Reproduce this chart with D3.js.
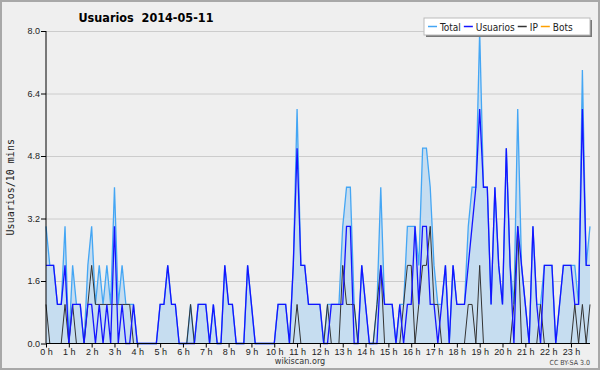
<!DOCTYPE html>
<html>
<head>
<meta charset="utf-8">
<script src="https://cdn.jsdelivr.net/npm/d3@7"></script>
<style>
  body { margin: 0; background: #fff; }
  svg { display: block; font-family: "DejaVu Sans Condensed", "DejaVu Sans", sans-serif; }
</style>
</head>
<body>
<svg id="chart" width="600" height="370"></svg>
<script>
// valores cada 10 minutos (144 puntos, 0 h -> 23:50)
const total = [
  3, 2, 2, 1, 1, 3, 0, 2, 1, 1, 0, 2, 3, 1, 2, 1, 2, 1, 4, 1, 2, 1, 1, 1,
  0, 0, 0, 0, 0, 0, 1, 1, 2, 1, 1, 0, 0, 0, 1, 0, 1, 1, 1, 0, 1, 0, 0, 2,
  1, 1, 0, 0, 0, 2, 1, 0, 0, 0, 0, 0, 0, 1, 1, 1, 0, 2, 6, 2, 2, 1, 1, 1,
  1, 0, 1, 1, 1, 1, 3, 4, 4, 1, 0, 2, 1, 0, 0, 1, 4, 1, 1, 1, 0, 1, 1, 3,
  3, 3, 2, 5, 5, 4, 2, 1, 1, 2, 0, 2, 1, 1, 1, 3, 4, 4, 8, 4, 4, 1, 4, 2,
  1, 5, 2, 1, 6, 2, 1, 0, 3, 1, 1, 2, 2, 2, 0, 1, 2, 2, 2, 2, 1, 7, 2, 3
];
const usuarios = [
  2, 2, 2, 1, 1, 2, 0, 1, 1, 1, 0, 1, 1, 0, 1, 0, 1, 0, 3, 0, 1, 0, 0, 1,
  0, 0, 0, 0, 0, 0, 1, 1, 2, 1, 1, 0, 0, 0, 0, 0, 1, 1, 1, 0, 1, 0, 0, 2,
  1, 1, 0, 0, 0, 2, 1, 0, 0, 0, 0, 0, 0, 1, 1, 1, 0, 2, 5, 2, 2, 1, 1, 1,
  1, 0, 0, 1, 1, 1, 1, 3, 3, 0, 0, 2, 1, 0, 0, 0, 2, 1, 1, 1, 0, 1, 0, 1,
  1, 3, 1, 3, 3, 1, 1, 0, 1, 2, 0, 2, 1, 1, 1, 2, 3, 4, 6, 4, 4, 1, 4, 2,
  1, 5, 2, 0, 3, 2, 1, 0, 3, 1, 0, 2, 2, 2, 0, 1, 2, 2, 2, 1, 1, 6, 2, 2
];
const ip = [
  1, 0, 0, 0, 0, 1, 0, 1, 0, 0, 0, 1, 2, 1, 1, 1, 1, 1, 1, 1, 1, 1, 1, 0,
  0, 0, 0, 0, 0, 0, 0, 0, 0, 0, 0, 0, 0, 0, 1, 0, 0, 0, 0, 0, 0, 0, 0, 0,
  0, 0, 0, 0, 0, 0, 0, 0, 0, 0, 0, 0, 0, 0, 0, 0, 0, 0, 1, 0, 0, 0, 0, 0,
  0, 0, 1, 0, 0, 0, 2, 1, 1, 1, 0, 0, 0, 0, 0, 1, 2, 0, 0, 0, 0, 0, 1, 2,
  2, 0, 1, 2, 2, 3, 1, 1, 0, 0, 0, 0, 0, 0, 0, 1, 1, 0, 2, 0, 0, 0, 0, 0,
  0, 0, 0, 1, 3, 0, 0, 0, 0, 0, 1, 0, 0, 0, 0, 0, 0, 0, 0, 1, 0, 1, 0, 1
];
const bots = [
  0, 0, 0, 0, 0, 0, 0, 0, 0, 0, 0, 0, 0, 0, 0, 0, 0, 0, 0, 0, 0, 0, 0, 0,
  0, 0, 0, 0, 0, 0, 0, 0, 0, 0, 0, 0, 0, 0, 0, 0, 0, 0, 0, 0, 0, 0, 0, 0,
  0, 0, 0, 0, 0, 0, 0, 0, 0, 0, 0, 0, 0, 0, 0, 0, 0, 0, 0, 0, 0, 0, 0, 0,
  0, 0, 0, 0, 0, 0, 0, 0, 0, 0, 0, 0, 0, 0, 0, 0, 0, 0, 0, 0, 0, 0, 0, 0,
  0, 0, 0, 0, 0, 0, 0, 0, 0, 0, 0, 0, 0, 0, 0, 0, 0, 0, 0, 0, 0, 0, 0, 0,
  0, 0, 0, 0, 0, 0, 0, 0, 0, 0, 0, 0, 0, 0, 0, 0, 0, 0, 0, 0, 0, 0, 0, 0
];
const hourLabels = ["0 h", "1 h", "2 h", "3 h", "4 h", "5 h", "6 h", "7 h", "8 h", "9 h",
  "10 h", "11 h", "12 h", "13 h", "14 h", "15 h", "16 h", "17 h", "18 h", "19 h",
  "20 h", "21 h", "22 h", "23 h"];
const yTicks = [0, 1.6, 3.2, 4.8, 6.4, 8.0];
const legendNames = ["Total", "Usuarios", "IP", "Bots"];
const legendColors = ["#44a6f4", "#1414ff", "#333333", "#ffa000"];

const svg = d3.select("#chart");
const plot = { left: 46, right: 590, top: 31, bottom: 343.5 };

// fondo y marco
svg.append("rect").attr("x", 1).attr("y", 1).attr("width", 598).attr("height", 368)
  .attr("fill", "#efefef").attr("stroke", "#a8a8a8").attr("stroke-width", 2);

const x = d3.scaleLinear().domain([0, total.length - 1]).range([plot.left, plot.right]);
const y = d3.scaleLinear().domain([0, 8]).range([plot.bottom, plot.top]);

// rejilla horizontal
svg.append("g")
  .attr("transform", `translate(${plot.left},0)`)
  .call(d3.axisLeft(y).tickValues(yTicks.slice(1)).tickSize(-(plot.right - plot.left)).tickFormat(""))
  .call(g => g.select(".domain").remove())
  .selectAll("line").attr("stroke", "#cccccc");

// area y lineas
const idx = d3.range(total.length);
svg.append("path").datum(idx)
  .attr("fill", "#c6ddf0")
  .attr("d", d3.area().x(i => x(i)).y0(y(0)).y1(i => y(total[i])));

const line = arr => d3.line().x(i => x(i)).y(i => y(arr[i]));

svg.append("path").datum(idx).attr("fill", "none")
  .attr("stroke", legendColors[0]).attr("stroke-width", 1.3).attr("d", line(total));
svg.append("path").datum(idx).attr("fill", "none")
  .attr("stroke", legendColors[3]).attr("stroke-width", 1).attr("d", line(bots));
svg.append("path").datum(idx).attr("fill", "none")
  .attr("stroke", legendColors[2]).attr("stroke-width", 1).attr("d", line(ip));
svg.append("path").datum(idx).attr("fill", "none")
  .attr("stroke", legendColors[1]).attr("stroke-width", 1.3).attr("d", line(usuarios));

// eje Y
const yAxis = svg.append("g").attr("transform", `translate(${plot.left},0)`);
yAxis.call(d3.axisLeft(y).tickValues(d3.range(0, 8.01, 0.4)).tickSize(4).tickFormat(""));
yAxis.call(d3.axisLeft(y).tickValues(yTicks).tickSize(5).tickFormat(d3.format(".1f")));
yAxis.selectAll(".domain").attr("stroke", "#000").attr("d", `M0,${plot.top}V${plot.bottom}`);
yAxis.selectAll("text").style("font-size", "9px").attr("fill", "#222").attr("x", -6);

// eje X
const xAxis = svg.append("g").attr("transform", `translate(0,${plot.bottom})`);
xAxis.call(d3.axisBottom(x).tickValues(idx).tickSize(3).tickFormat(""));
xAxis.call(d3.axisBottom(x).tickValues(hourLabels.map((d, h) => h * 6)).tickSize(4)
  .tickFormat((d, h) => hourLabels[h]));
xAxis.selectAll(".domain").attr("stroke", "#000").attr("d", `M${plot.left},0H${plot.right}`);
xAxis.selectAll("text").style("font-size", "9px").attr("fill", "#222").attr("y", 5);

// titulo y etiquetas
svg.append("text").attr("x", 146).attr("y", 22).attr("text-anchor", "middle")
  .style("font-size", "12.5px").style("font-weight", "bold").style("white-space", "pre")
  .text("Usuarios  2014-05-11");

svg.append("text").attr("transform", "rotate(-90)")
  .attr("x", -(plot.top + plot.bottom) / 2).attr("y", 14).attr("text-anchor", "middle")
  .style("font-family", "'DejaVu Sans Mono', monospace").style("font-size", "10px").attr("fill", "#222")
  .text("Usuarios/10 mins");

svg.append("text").attr("x", 300).attr("y", 364).attr("text-anchor", "middle")
  .style("font-size", "9px").attr("fill", "#333").text("wikiscan.org");

svg.append("text").attr("x", 590).attr("y", 365).attr("text-anchor", "end")
  .style("font-size", "7px").attr("fill", "#444").text("CC BY-SA 3.0");

// leyenda
const leg = svg.append("g");
leg.append("rect").attr("x", 426).attr("y", 20).attr("width", 166).attr("height", 17).attr("fill", "#777");
leg.append("rect").attr("x", 424).attr("y", 18).attr("width", 166).attr("height", 17)
  .attr("fill", "#fff").attr("stroke", "#bbb");
let lx = 428;
legendNames.forEach((name, k) => {
  leg.append("line").attr("x1", lx).attr("x2", lx + 9).attr("y1", 26.5).attr("y2", 26.5)
    .attr("stroke", legendColors[k]).attr("stroke-width", 1.5);
  const t = leg.append("text").attr("x", lx + 12).attr("y", 30.5)
    .style("font-size", "10px").attr("fill", "#222").text(name);
  lx += 12 + t.node().getComputedTextLength() + 3;
});
</script>
</body>
</html>
